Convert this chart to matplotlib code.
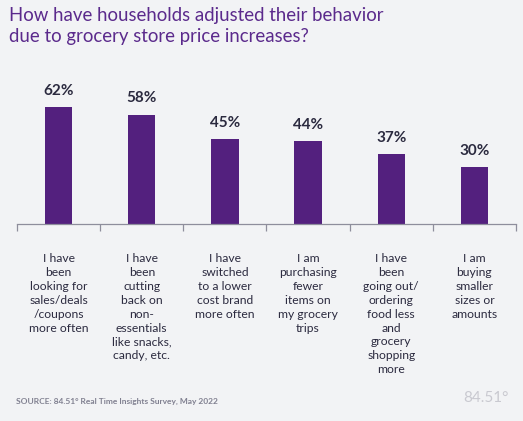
import matplotlib
matplotlib.use("Agg")
import matplotlib.pyplot as plt

categories = [
    "I have\nbeen\nlooking for\nsales/deals\n/coupons\nmore often",
    "I have\nbeen\ncutting\nback on\nnon-\nessentials\nlike snacks,\ncandy, etc.",
    "I have\nswitched\nto a lower\ncost brand\nmore often",
    "I am\npurchasing\nfewer\nitems on\nmy grocery\ntrips",
    "I have\nbeen\ngoing out/\nordering\nfood less\nand\ngrocery\nshopping\nmore",
    "I am\nbuying\nsmaller\nsizes or\namounts",
]
values = [62, 58, 45, 44, 37, 30]

BG = "#f2f3f5"
BAR = "#53207e"
TXT = "#2b2a3f"
plt.rcParams["font.family"] = ["Lato", "DejaVu Sans"]

fig = plt.figure(figsize=(5.23, 4.21), dpi=100, facecolor=BG)
ax = fig.add_axes([17/523, 1 - 224/421, 499/523, 188.5/421], facecolor=BG)

x = list(range(len(values)))
ax.bar(x, values, width=0.33, color=BAR, zorder=2)
for xi, v in zip(x, values):
    ax.text(xi, v + 5, f"{v}%", ha="center", va="bottom", fontsize=11,
            fontweight="bold", color=TXT)

ax.set_xlim(-0.5, len(values) - 0.5)
ax.set_ylim(0, 100)
for s in ["top", "right", "left"]:
    ax.spines[s].set_visible(False)
ax.spines["bottom"].set_color("#8e8e9c")
ax.spines["bottom"].set_linewidth(0.9)
ax.set_yticks([])
ax.set_xticks([i - 0.5 for i in range(len(values) + 1)])
ax.set_xticklabels([])
ax.tick_params(axis="x", direction="out", length=5, color="#8e8e9c", width=0.9)

for xi, lab in zip(x, categories):
    ax.text(xi, -15.5, lab, ha="center", va="top", fontsize=8.7, color=TXT,
            linespacing=1.32)

fig.text(9/523, 1 - 26/421, "How have households adjusted their behavior\ndue to grocery store price increases?",
         ha="left", va="center", fontsize=13.4, color="#5b2a8c", linespacing=1.33)
fig.text(16/523, 1 - 401/421, "SOURCE: 84.51° Real Time Insights Survey, May 2022",
         ha="left", va="center", fontsize=6, fontweight="bold", color="#808090")
fig.text(509/523, 1 - 398/421, "84.51°", ha="right", va="center", fontsize=11,
         color="#c9c9d0")

fig.savefig("out.png", dpi=100, facecolor=BG)
